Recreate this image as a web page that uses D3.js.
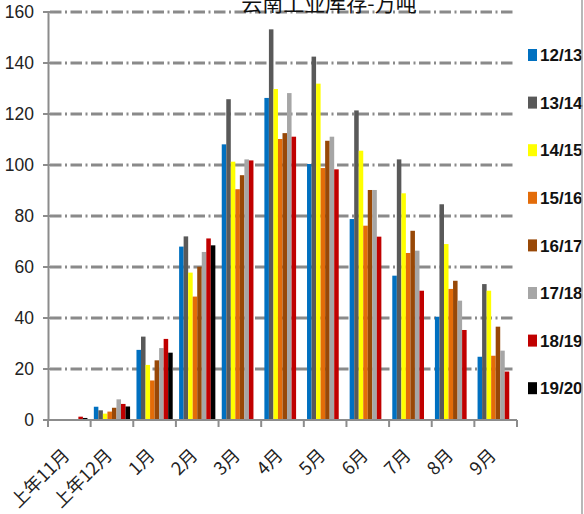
<!DOCTYPE html>
<html>
<head>
<meta charset="utf-8">
<script src="https://cdn.jsdelivr.net/npm/d3@7"></script>
<style>
  html, body { margin: 0; padding: 0; background: #fff; }
  svg { display: block; }
</style>
</head>
<body>
<svg id="chart" width="584" height="514"></svg>
<script>
// Month categories (season runs from previous November to September)
const categories = ["上年11月", "上年12月", "1月", "2月", "3月", "4月", "5月", "6月", "7月", "8月", "9月"];

// Season names and colours
const seasons = ["12/13", "13/14", "14/15", "15/16", "16/17", "17/18", "18/19", "19/20"];
const seasonColors = ["#0070C0", "#595959", "#FFFF00", "#E36C09", "#984807", "#A6A6A6", "#C00000", "#000000"];

// Industrial stock, 10k tonnes, one array per season (null = no data)
const s1213 = [null, 5.2, 27.5, 68.0, 108.1, 126.3, 100.4, 78.8, 56.6, 40.5, 24.8];
const s1314 = [null, 3.8, 32.7, 72.0, 125.8, 153.2, 142.5, 121.4, 102.2, 84.6, 53.3];
const s1415 = [null, 2.5, 21.6, 57.8, 101.3, 129.8, 131.9, 105.6, 88.9, 69.0, 50.7];
const s1516 = [null, 3.3, 15.5, 48.4, 90.5, 110.2, 98.8, 76.2, 65.5, 51.4, 25.2];
const s1617 = [null, 4.8, 23.4, 60.1, 96.0, 112.5, 109.5, 90.2, 74.2, 54.6, 36.6];
const s1718 = [null, 8.1, 28.2, 65.9, 102.2, 128.2, 111.1, 90.2, 66.4, 46.8, 27.2];
const s1819 = [1.3, 6.3, 31.8, 71.2, 101.8, 111.1, 98.3, 71.9, 50.7, 35.3, 19.0];
const s1920 = [0.8, 5.3, 26.4, 68.5];

const yTicks = [0, 20, 40, 60, 80, 100, 120, 140, 160];
const titleText = "云南工业库存-万吨";

const seriesValues = [s1213, s1314, s1415, s1516, s1617, s1718, s1819, s1920];

const svg = d3.select("#chart");
const plot = { left: 48, right: 517, top: 12, bottom: 420 };

const x0 = d3.scaleBand().domain(categories).range([plot.left, plot.right]).padding(0);
const x1 = d3.scaleBand().domain(seasons).range([3.2, x0.bandwidth() - 3.2]).padding(0);
const y = d3.scaleLinear().domain([0, 160]).range([plot.bottom, plot.top]);

const axisGray = "#8C8C8C";
const numFont = "'Liberation Sans', Arial, sans-serif";
const cjkFont = "'Noto Sans CJK SC', sans-serif";

// Dash-dot gridlines
svg.append("g")
  .selectAll("line")
  .data(yTicks.filter(d => d > 0))
  .join("line")
  .attr("x1", plot.left + 2)
  .attr("x2", plot.right - 2)
  .attr("y1", d => y(d))
  .attr("y2", d => y(d))
  .attr("stroke", "#8A8A8A")
  .attr("stroke-width", 3)
  .attr("stroke-dasharray", "11.5,3.5,2,3.5");

// Title
svg.append("text")
  .attr("x", 329)
  .attr("y", 11)
  .attr("text-anchor", "middle")
  .attr("font-family", cjkFont)
  .attr("font-size", 21)
  .attr("fill", "#111")
  .text(titleText);

// Bars
const flat = [];
seriesValues.forEach((vals, si) => {
  vals.forEach((v, ci) => {
    if (v != null) flat.push({ season: seasons[si], color: seasonColors[si], cat: categories[ci], value: v });
  });
});

svg.append("g")
  .selectAll("rect")
  .data(flat)
  .join("rect")
  .attr("x", d => x0(d.cat) + x1(d.season))
  .attr("width", x1.bandwidth())
  .attr("y", d => y(d.value))
  .attr("height", d => y(0) - y(d.value))
  .attr("fill", d => d.color);

// Y axis
const yAxis = d3.axisLeft(y).tickValues(yTicks).tickSize(0).tickPadding(14).tickFormat(d3.format("d"));
const yg = svg.append("g").attr("transform", `translate(${plot.left},0)`).call(yAxis);
yg.select(".domain").attr("stroke", axisGray).attr("stroke-width", 2);
yg.selectAll("text").attr("font-family", numFont).attr("font-size", 17.5).attr("fill", "#222");
svg.append("g")
  .selectAll("line")
  .data(yTicks)
  .join("line")
  .attr("x1", plot.left - 5).attr("x2", plot.left + 6)
  .attr("y1", d => y(d)).attr("y2", d => y(d))
  .attr("stroke", axisGray).attr("stroke-width", 2);

// X axis
const bounds = categories.map(c => x0(c)).concat([plot.right]);
svg.append("line")
  .attr("x1", plot.left - 5).attr("x2", plot.right)
  .attr("y1", y(0)).attr("y2", y(0))
  .attr("stroke", axisGray).attr("stroke-width", 2);
svg.append("g")
  .selectAll("line")
  .data(bounds)
  .join("line")
  .attr("x1", d => d).attr("x2", d => d)
  .attr("y1", y(0)).attr("y2", y(0) + 7)
  .attr("stroke", axisGray).attr("stroke-width", 2);

svg.append("g")
  .selectAll("text")
  .data(categories)
  .join("text")
  .attr("transform", d => `translate(${x0(d) + x0.bandwidth() / 2 - 3},${plot.bottom + 32}) rotate(-45)`)
  .attr("text-anchor", "end")
  .attr("dy", "0.35em")
  .attr("font-family", cjkFont)
  .attr("font-size", 18)
  .attr("fill", "#222")
  .text(d => d);

// Legend
const legend = svg.append("g")
  .selectAll("g")
  .data(seasons)
  .join("g")
  .attr("transform", (d, i) => `translate(528,${55 + i * 47.6})`);
legend.append("rect")
  .attr("x", 0).attr("y", -6).attr("width", 9).attr("height", 12)
  .attr("fill", (d, i) => seasonColors[i]);
legend.append("text")
  .attr("x", 12).attr("y", 0)
  .attr("dy", "0.36em")
  .attr("font-family", numFont)
  .attr("font-weight", "bold")
  .attr("font-size", 17)
  .attr("fill", "#111")
  .text(d => d);

// Right frame edge
svg.append("line")
  .attr("x1", 582).attr("x2", 582).attr("y1", 0).attr("y2", 514)
  .attr("stroke", "#A0A0A0").attr("stroke-width", 1.5);
</script>
</body>
</html>
